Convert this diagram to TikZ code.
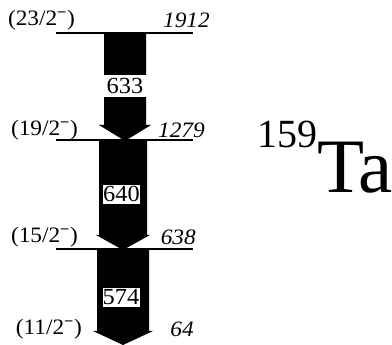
\documentclass[tikz,border=0pt]{standalone}
\usepackage{fontspec}
\setmainfont{Liberation Serif}
\newfontfamily\lblfont[FakeStretch=1.06]{Liberation Serif}
\begin{document}
\begin{tikzpicture}[x=1pt,y=-1pt,
  lvl/.style={line width=1.4pt},
  arr/.style={fill=black,draw=none},
  spin/.style={font=\lblfont\fontsize{22}{22}\selectfont, anchor=east, inner sep=0pt},
  en/.style={font=\lblfont\fontsize{22}{22}\selectfont\itshape, anchor=east, inner sep=0pt},
  glab/.style={font=\lblfont\fontsize{23}{23}\selectfont, fill=white, draw=black, line width=0.6pt, inner sep=0.5pt, minimum height=20pt, minimum width=38pt}]
\useasboundingbox (0,0) rectangle (392,345);
% levels
\coordinate (l1a) at (56,33);  \coordinate (l1b) at (193,33);
\coordinate (l2a) at (56,140); \coordinate (l2b) at (193,140);
\coordinate (l3a) at (56,249); \coordinate (l3b) at (193,249);
% arrows
\fill[arr] (104,33) -- (146,33) -- (146,125) -- (151,125) -- (125,141) -- (99,125) -- (104,125) -- cycle;
\fill[arr] (99,141) -- (147,141) -- (147,235) -- (150,235) -- (123,250) -- (96,235) -- (99,235) -- cycle;
\fill[arr] (97,250) -- (149,250) -- (149,331) -- (153,331) -- (123,345) -- (93,331) -- (97,331) -- cycle;
\draw[lvl] (l1a) -- (l1b);
\draw[lvl] (l2a) -- (l2b);
\draw[lvl] (l3a) -- (l3b);
% gamma labels
\fill[white] (103,75) rectangle (147,97);
\node[font=\lblfont\fontsize{23}{23}\selectfont, inner sep=0pt] (g633) at (125,86) {633};
\node[glab] (g640) at (121.5,194) {640};
\node[glab] (g574) at (121,297) {574};
% level labels
\node[spin] (s1) at (75,20) {(23/2\textsuperscript{\textbf{\char"2212}})};
\node[en] (e1) at (210,20) {1912};
\node[spin] (s2) at (78,130) {(19/2\textsuperscript{\textbf{\char"2212}})};
\node[en] (e2) at (205,130) {1279};
\node[spin] (s3) at (78,237) {(15/2\textsuperscript{\textbf{\char"2212}})};
\node[en] (e3) at (196,237) {638};
\node[spin] (s4) at (82,329) {(11/2\textsuperscript{\textbf{\char"2212}})};
\node[en] (e4) at (194,329) {64};
% nucleus
\node[font=\fontsize{77}{77}\selectfont, anchor=base west, inner sep=0pt] (ta) at (317,193) {Ta};
\node[font=\fontsize{40}{40}\selectfont, anchor=base east, inner sep=0pt] (mass) at (318,148) {159};
\end{tikzpicture}
\end{document}
